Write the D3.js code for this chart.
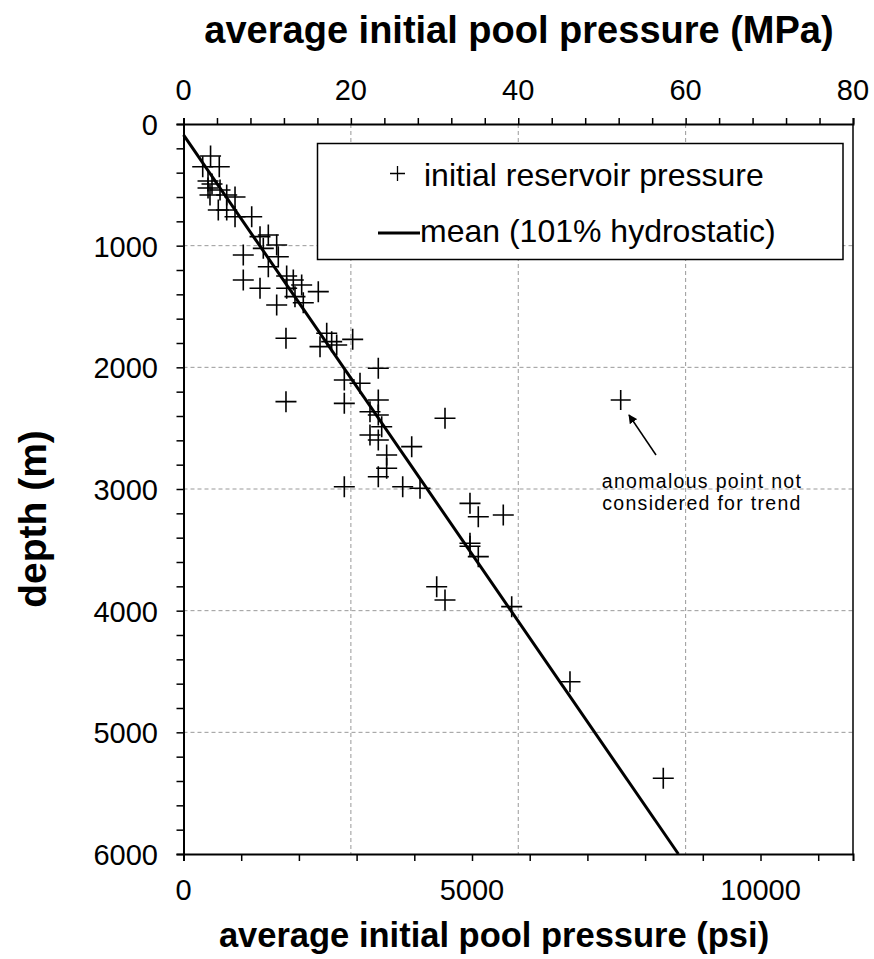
<!DOCTYPE html>
<html>
<head>
<meta charset="utf-8">
<script src="https://cdn.jsdelivr.net/npm/d3@7"></script>
<style>
  body { margin: 0; background: #fff; }
  text { font-family: "Liberation Sans", Arial, sans-serif; fill: #000; }
</style>
</head>
<body>
<div id="canvas-body"></div>
<script>
// reservoir pressure points: [pressure (psi), depth (m)]
var pressurePsi = [469, 333, 620, 425, 494, 425, 633, 459, 749, 893, 603, 749, 893, 1182,
    1036, 1326, 1470, 1383, 1615, 1643, 1470, 1788, 1903, 1036, 1326, 1788, 2048, 2336,
    1615, 2076, 1932, 1776, 2482, 2366, 2568, 2655, 2932, 3376, 2787, 3059, 1776, 2787,
    3376, 3232, 3376, 3435, 3232, 3376, 3955, 3521, 3521, 3376, 2787, 3799, 4099, 4532,
    4965, 5109, 5542, 4965, 4965, 5109, 4388, 4532, 5688, 6698, 8315];
var depthM = [263, 351, 351, 468, 493, 526, 542, 584, 584, 600, 707, 707, 762, 762,
    1077, 926, 912, 1022, 994, 1091, 1173, 1249, 1282, 1282, 1350, 1350, 1323, 1378,
    1488, 1469, 1419, 1761, 1720, 1830, 1789, 1816, 1770, 2008, 2104, 2131, 2282, 2296,
    2268, 2365, 2392, 2488, 2556, 2597, 2652, 2720, 2830, 2899, 2981, 2981, 2994, 2419,
    3118, 3228, 3214, 3446, 3470, 3556, 3803, 3912, 3967, 4584, 5378];

// anomalous point, left out of the trend
var anomalyPsi = 7577, anomalyDepth = 2268;

// mean trend line (101% hydrostatic): [psi, depth]
var meanLine = [[0, 90], [8577, 6000]];

// axis ticks
var mpaTicks = [0, 20, 40, 60, 80];
var psiTicks = [0, 5000, 10000];
var depthTicks = [0, 1000, 2000, 3000, 4000, 5000, 6000];

var psiPerMpa = 145.0377;

const width = 874, height = 959;
const margin = {top: 124, right: 21, bottom: 105, left: 183.5};

var s = d3.select("#canvas-body")
            .append("svg")
            .attr("width", width)
            .attr("height", height);

// scales
var xpsi = d3.scaleLinear().domain([0, 80 * psiPerMpa]).range([margin.left, width - margin.right]);
var xmpa = d3.scaleLinear().domain([0, 80]).range([margin.left, width - margin.right]);
var ydep = d3.scaleLinear().domain([0, 6000]).range([margin.top, height - margin.bottom]);

var x0 = margin.left, x1 = width - margin.right;
var y0 = margin.top, y1 = height - margin.bottom;

// grid lines
var grid = s.append("g").attr("stroke", "#999").attr("stroke-width", 1).attr("stroke-dasharray", "4,3");
grid.selectAll(null).data([20, 40, 60]).enter().append("line")
    .attr("x1", function(d){ return xmpa(d); })
    .attr("x2", function(d){ return xmpa(d); })
    .attr("y1", y0).attr("y2", y1);
grid.selectAll(null).data([1000, 2000, 3000, 4000, 5000]).enter().append("line")
    .attr("y1", function(d){ return ydep(d); })
    .attr("y2", function(d){ return ydep(d); })
    .attr("x1", x0).attr("x2", x1);

// axes
var topAxis = d3.axisTop(xmpa).tickValues(d3.range(0, 81, 4)).tickSize(6).tickFormat("");
s.append("g").attr("transform", "translate(0," + y0 + ")").call(topAxis);
var bottomAxis = d3.axisBottom(xpsi).tickValues(d3.range(0, 11001, 1000)).tickSize(7).tickFormat("");
s.append("g").attr("transform", "translate(0," + y1 + ")").call(bottomAxis);
var leftAxis = d3.axisLeft(ydep).tickValues(d3.range(0, 6001, 200)).tickSize(7).tickFormat("");
s.append("g").attr("transform", "translate(" + x0 + ",0)").call(leftAxis);
s.selectAll(".domain").attr("stroke-width", 2);
s.selectAll(".tick line").attr("stroke-width", 1.5);
s.append("line").attr("x1", x1).attr("x2", x1).attr("y1", y0).attr("y2", y1)
    .attr("stroke", "#000").attr("stroke-width", 1.5);

// tick labels
s.append("g").selectAll("text").data(mpaTicks).enter().append("text")
    .attr("x", function(d){ return xmpa(d); })
    .attr("y", 100)
    .attr("text-anchor", "middle")
    .attr("font-size", 29)
    .text(function(d){ return d; });
s.append("g").selectAll("text").data(psiTicks).enter().append("text")
    .attr("x", function(d){ return xpsi(d); })
    .attr("y", 900)
    .attr("text-anchor", "middle")
    .attr("font-size", 29)
    .text(function(d){ return d; });
s.append("g").selectAll("text").data(depthTicks).enter().append("text")
    .attr("x", 158)
    .attr("y", function(d){ return ydep(d) + 11; })
    .attr("text-anchor", "end")
    .attr("font-size", 29)
    .text(function(d){ return d; });

// axis titles
s.append("text").attr("x", 519).attr("y", 43).attr("text-anchor", "middle")
    .attr("font-size", 38).attr("font-weight", "bold")
    .text("average initial pool pressure (MPa)");
s.append("text").attr("x", 494).attr("y", 947).attr("text-anchor", "middle")
    .attr("font-size", 34.5).attr("font-weight", "bold")
    .text("average initial pool pressure (psi)");
s.append("text").attr("transform", "translate(46,519) rotate(-90)").attr("text-anchor", "middle")
    .attr("font-size", 39).attr("font-weight", "bold")
    .text("depth (m)");

// cross marker path
function cross(x, y, r){
    return "M" + (x - r) + "," + y + "H" + (x + r) + "M" + x + "," + (y - r) + "V" + (y + r);
}

// data points
var pts = d3.zip(pressurePsi, depthM);
s.append("g").selectAll("path").data(pts).enter().append("path")
    .attr("d", function(d){ return cross(xpsi(d[0]), ydep(d[1]), 10.5); })
    .attr("stroke", "#000").attr("stroke-width", 1.6).attr("fill", "none");
s.append("path")
    .attr("d", cross(xpsi(anomalyPsi), ydep(anomalyDepth), 10))
    .attr("stroke", "#000").attr("stroke-width", 1.6);

// mean line
var linefunc = d3.line()
    .x(function(d){ return xpsi(d[0]); })
    .y(function(d){ return ydep(d[1]); });
s.append("path").attr("d", linefunc(meanLine))
    .attr("stroke", "#000").attr("stroke-width", 3).attr("fill", "none");

// legend
var lg = s.append("g");
lg.append("rect").attr("x", 317.5).attr("y", 143.5).attr("width", 525.5).attr("height", 116)
    .attr("fill", "#fff").attr("stroke", "#000").attr("stroke-width", 1.5);
lg.append("path").attr("d", cross(397.5, 173.5, 7.5)).attr("stroke", "#000").attr("stroke-width", 1.3);
lg.append("text").attr("x", 424).attr("y", 186).attr("font-size", 32).text("initial reservoir pressure");
lg.append("line").attr("x1", 378).attr("x2", 420).attr("y1", 233).attr("y2", 233)
    .attr("stroke", "#000").attr("stroke-width", 3);
lg.append("text").attr("x", 420).attr("y", 242).attr("font-size", 32).text("mean (101% hydrostatic)");

// annotation
s.append("defs").append("marker")
    .attr("id", "arrow").attr("viewBox", "0 0 10 10")
    .attr("refX", 9).attr("refY", 5)
    .attr("markerWidth", 6).attr("markerHeight", 6)
    .attr("orient", "auto")
    .append("path").attr("d", "M0,0L10,5L0,10Z").attr("fill", "#000");
s.append("line").attr("x1", 656).attr("y1", 455).attr("x2", 629).attr("y2", 415)
    .attr("stroke", "#000").attr("stroke-width", 1.5).attr("marker-end", "url(#arrow)");
s.append("text").attr("x", 702).attr("y", 488).attr("text-anchor", "middle")
    .attr("font-size", 19.5).attr("letter-spacing", 1.3).text("anomalous point not");
s.append("text").attr("x", 702).attr("y", 510).attr("text-anchor", "middle")
    .attr("font-size", 19.5).attr("letter-spacing", 1.3).text("considered for trend");
</script>
</body>
</html>
